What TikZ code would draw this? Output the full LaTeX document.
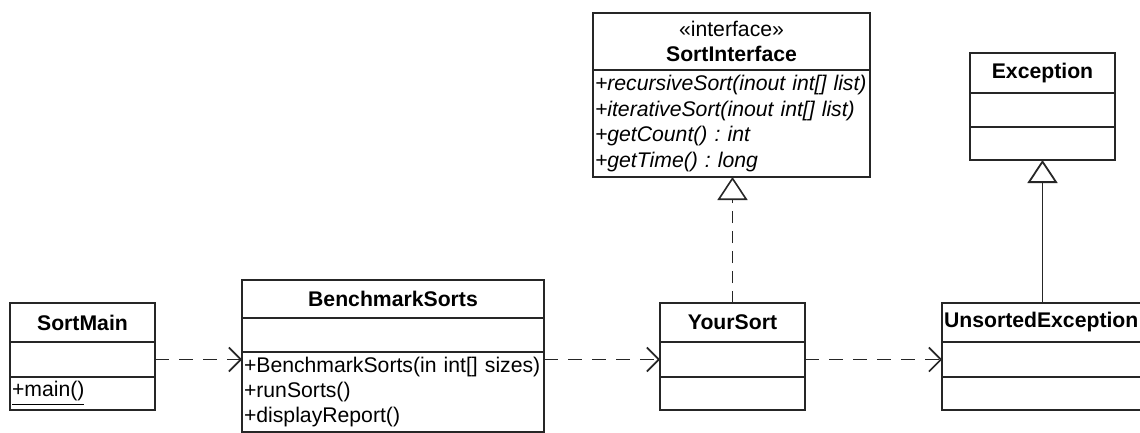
\documentclass[tikz,border=0pt]{standalone}
\usepackage{fontspec}
\setmainfont{Liberation Sans}
\usetikzlibrary{arrows.meta,positioning}

\begin{document}
\begin{tikzpicture}[
    x=0.5pt, y=-0.5pt,
    part/.style={rectangle, draw=black!85, line width=0.9pt, inner xsep=1pt, inner ysep=0pt, outer sep=0pt, font=\fontsize{10.6}{12.5}\selectfont\frenchspacing, align=left},
    head/.style={part, font=\fontsize{10.6}{12.5}\selectfont\bfseries, align=center},
    dep/.style={draw=black!85, line width=0.8pt, dash pattern=on 7pt off 5pt, -{Straight Barb[length=6pt, width=12pt]}},
    realize/.style={draw=black!85, line width=0.8pt, dash pattern=on 6pt off 4pt, -{Triangle[open, length=11.5pt, width=15pt, fill=white]}},
    inherit/.style={draw=black!85, line width=0.9pt, -{Triangle[open, length=11.5pt, width=15pt, fill=white]}},
    node distance=0pt
]
\clip (0,0) rectangle (1140,433);
\fill[white] (0,0) rectangle (1140,433);

% SortMain
\node[head, anchor=north west, text width=70.5pt, minimum height=19.5pt] (smain) at (10,303) {SortMain};
\node[part, text width=70.5pt, minimum height=17.5pt, below=of smain] (smain-attr) {};
\node[part, text width=70.5pt, minimum height=16.5pt, below=of smain-attr] (smain-ops) {\underline{+main()}};

% BenchmarkSorts
\node[head, anchor=north west, text width=149pt, minimum height=19pt] (bench) at (242,280) {BenchmarkSorts};
\node[part, text width=149pt, minimum height=17pt, below=of bench] (bench-attr) {};
\node[part, text width=149pt, minimum height=40pt, below=of bench-attr] (bench-ops) {+BenchmarkSorts(in int[] sizes)\\+runSorts()\\+displayReport()};

% SortInterface
\node[head, anchor=north west, text width=136.5pt, minimum height=28.5pt] (sortif) at (593,13) {{\mdseries «interface»}\\SortInterface};
\node[part, text width=136.5pt, minimum height=53.5pt, below=of sortif, font=\fontsize{10.6}{12.75}\selectfont\itshape\frenchspacing] (sortif-ops) {+recursiveSort(inout int[] list)\\+iterativeSort(inout int[] list)\\+getCount() : int\\+getTime() : long};

% YourSort
\node[head, anchor=north west, text width=70.5pt, minimum height=19.5pt] (ysort) at (660,303) {YourSort};
\node[part, text width=70.5pt, minimum height=17.5pt, below=of ysort] (ysort-attr) {};
\node[part, text width=70.5pt, minimum height=16.5pt, below=of ysort-attr] (ysort-ops) {};

% Exception
\node[head, anchor=north west, text width=70.5pt, minimum height=20pt] (exc) at (970,53) {Exception};
\node[part, text width=70.5pt, minimum height=17pt, below=of exc] (exc-attr) {};
\node[part, text width=70.5pt, minimum height=16.5pt, below=of exc-attr] (exc-ops) {};

% UnsortedException
\node[head, anchor=north west, text width=108pt, minimum height=19.5pt, align=left] (unsorted) at (942,303) {UnsortedException};
\node[part, text width=108pt, minimum height=17.5pt, below=of unsorted] (unsorted-attr) {};
\node[part, text width=108pt, minimum height=16.5pt, below=of unsorted-attr] (unsorted-ops) {};

% Arrows
\draw[dep] (smain-attr.east) -- (smain-attr.east -| bench.west);
\draw[dep] (ysort-attr.west -| bench.east) -- (ysort-attr.west);
\draw[dep] (ysort-attr.east) -- (unsorted-attr.west);
\draw[realize] (ysort.north) -- (ysort.north |- sortif-ops.south);
\draw[inherit] (exc-ops.south |- unsorted.north) -- (exc-ops.south);

\end{tikzpicture}
\end{document}
